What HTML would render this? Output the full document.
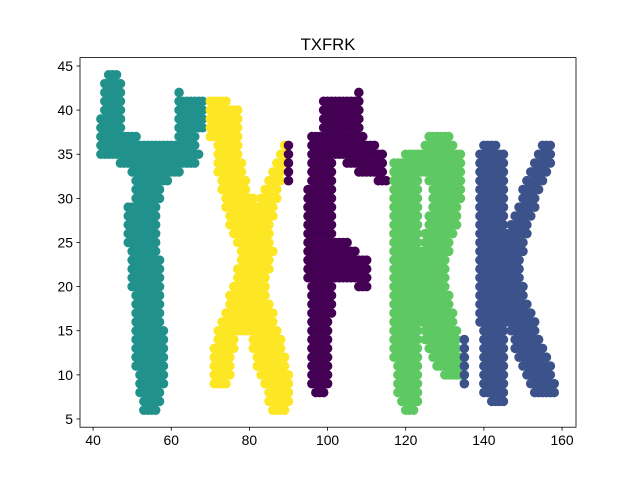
<!DOCTYPE html>
<html><head><meta charset="utf-8"><style>
body{margin:0;background:#fff;}
svg{display:block;font-family:"Liberation Sans","DejaVu Sans",sans-serif;}
</style></head><body>
<svg id="chart" width="640" height="480" viewBox="0 0 640 480">
<rect width="640" height="480" fill="#fff"/>
<defs><clipPath id="clip"><rect x="80" y="57.6" width="496" height="369.6"/></clipPath></defs>
<text x="328" y="50" font-size="16.7" text-anchor="middle" fill="#000">TXFRK</text>
<g id="marks" clip-path="url(#clip)"></g>
<rect x="80" y="57.6" width="496" height="369.6" fill="none" stroke="#000" stroke-width="0.8"/>
<g id="axes"></g>
</svg>
<script>
// data: runs of [y, xStart, xEnd] (integer grid points)
const seriesNames = ["T","X","F","R","K"];
const seriesColors = ["#21918c","#fde725","#440154","#5ec962","#3b528b"];
const runsT = [[44,44,46],[43,43,47],[42,43,47],[42,62,62],[41,43,47],[41,62,68],[40,43,47],[40,62,68],[39,42,47],[39,62,68],[38,42,47],[38,62,68],[37,42,51],[37,62,66],[36,42,66],[35,42,67],[34,47,66],[33,50,62],[32,51,59],[31,51,57],[30,51,57],[29,49,56],[28,49,56],[27,49,56],[26,49,56],[25,49,56],[24,50,56],[23,50,57],[22,50,57],[21,50,57],[20,50,57],[19,51,57],[18,51,57],[17,51,57],[16,51,57],[15,51,58],[14,51,58],[13,51,58],[12,51,58],[11,51,58],[10,52,58],[9,52,58],[8,52,57],[7,53,57],[6,53,56]];
const runsX = [[41,70,74],[40,70,77],[39,70,77],[38,70,77],[37,70,77],[36,72,77],[36,89,89],[35,72,77],[35,88,89],[34,72,78],[34,87,89],[33,72,78],[33,86,88],[32,73,79],[32,85,88],[31,73,79],[31,84,87],[30,74,81],[30,83,87],[29,74,86],[28,75,86],[27,75,85],[26,76,85],[25,77,85],[24,78,86],[23,78,85],[22,77,85],[21,77,84],[20,76,84],[19,75,84],[18,75,85],[17,74,86],[16,73,86],[15,72,87],[14,72,76],[14,81,88],[13,71,76],[13,81,88],[12,71,75],[12,82,89],[11,71,75],[11,82,89],[10,71,75],[10,83,90],[9,71,74],[9,84,90],[8,85,90],[7,85,90],[6,86,89]];
const runsF = [[42,108,108],[41,99,108],[40,99,108],[39,99,108],[38,99,108],[37,96,109],[36,90,90],[36,96,112],[35,90,90],[35,96,114],[34,90,90],[34,96,101],[34,105,114],[33,90,90],[33,96,101],[33,108,114],[32,90,90],[32,96,101],[32,113,115],[31,95,101],[30,95,101],[29,95,101],[28,95,101],[27,95,101],[26,95,101],[25,95,105],[24,95,107],[23,95,110],[22,95,110],[21,95,110],[20,96,101],[20,108,110],[19,96,101],[18,96,101],[17,96,101],[16,96,100],[15,96,100],[14,96,100],[13,96,100],[12,96,100],[11,96,100],[10,96,100],[9,96,100],[8,97,99]];
const runsR = [[37,126,131],[36,125,132],[35,120,134],[34,117,134],[33,117,134],[32,117,123],[32,126,134],[31,117,123],[31,127,134],[30,117,123],[30,127,134],[29,117,123],[29,127,133],[28,117,123],[28,126,133],[27,117,123],[27,126,133],[26,117,123],[26,125,132],[25,117,123],[25,125,131],[24,117,131],[23,117,130],[22,117,130],[21,117,130],[20,117,130],[19,117,131],[18,117,131],[17,117,123],[17,124,132],[16,117,123],[16,124,132],[15,117,123],[15,125,133],[14,117,123],[14,125,133],[13,117,123],[13,126,133],[12,117,123],[12,127,134],[11,118,123],[11,128,134],[10,118,123],[10,130,134],[9,118,123],[8,118,123],[7,119,123],[6,120,122]];
const runsK = [[36,140,143],[36,155,157],[35,139,145],[35,154,157],[34,139,145],[34,153,157],[33,139,145],[33,152,156],[32,139,145],[32,151,155],[31,139,145],[31,150,154],[30,139,145],[30,150,153],[29,139,145],[29,149,153],[28,139,145],[28,148,152],[27,139,145],[27,147,151],[26,139,151],[25,139,150],[24,139,150],[23,139,149],[22,139,149],[21,139,149],[20,139,150],[19,139,150],[18,139,151],[17,139,152],[16,139,153],[15,140,145],[15,147,153],[14,135,135],[14,140,145],[14,148,154],[13,135,135],[13,140,145],[13,148,155],[12,135,135],[12,140,145],[12,149,156],[11,135,135],[11,140,145],[11,150,157],[10,135,135],[10,140,145],[10,151,157],[9,135,135],[9,140,145],[9,152,158],[8,140,145],[8,153,158],[7,142,145]];
const seriesRuns = [runsT, runsX, runsF, runsR, runsK];
const xTicks = [40,60,80,100,120,140,160];
const yTicks = [5,10,15,20,25,30,35,40,45];

const X0=80,X1=576,Y0=57.6,Y1=427.2, XMIN=36.65, XMAX=163.57, YMIN=4.07, YMAX=45.95;
function sx(v){return X0+(v-XMIN)/(XMAX-XMIN)*(X1-X0);}
function sy(v){return Y1-(v-YMIN)/(YMAX-YMIN)*(Y1-Y0);}
const NS="http://www.w3.org/2000/svg";
const marks=document.getElementById('marks');
seriesRuns.forEach((runs,si)=>{
  const g=document.createElementNS(NS,'g');
  
  
  g.setAttribute('fill',seriesColors[si]);
  runs.forEach(r=>{
    for(let x=r[1];x<=r[2];x++){
      const c=document.createElementNS(NS,'circle');
      c.setAttribute('cx',sx(x).toFixed(2));
      c.setAttribute('cy',sy(r[0]).toFixed(2));
      c.setAttribute('r','4.8');
      
      
      g.appendChild(c);
    }
  });
  marks.appendChild(g);
});
const axes=document.getElementById('axes');
xTicks.forEach(t=>{
  const x=sx(t);
  const l=document.createElementNS(NS,'line');
  l.setAttribute('x1',x);l.setAttribute('x2',x);l.setAttribute('y1',Y1);l.setAttribute('y2',Y1+3.5);
  l.setAttribute('stroke','#000');l.setAttribute('stroke-width','0.8');
  
  
  axes.appendChild(l);
  const tx=document.createElementNS(NS,'text');
  tx.setAttribute('x',x);tx.setAttribute('y',Y1+18);tx.setAttribute('font-size','13.9');tx.setAttribute('text-anchor','middle');
  tx.textContent=t;
  
  
  axes.appendChild(tx);
});
yTicks.forEach(t=>{
  const y=sy(t);
  const l=document.createElementNS(NS,'line');
  l.setAttribute('x1',X0-3.5);l.setAttribute('x2',X0);l.setAttribute('y1',y);l.setAttribute('y2',y);
  l.setAttribute('stroke','#000');l.setAttribute('stroke-width','0.8');
  
  
  axes.appendChild(l);
  const tx=document.createElementNS(NS,'text');
  tx.setAttribute('x',X0-7);tx.setAttribute('y',y+5);tx.setAttribute('font-size','13.9');tx.setAttribute('text-anchor','end');
  tx.textContent=t;
  
  
  axes.appendChild(tx);
});
</script>
</body></html>
